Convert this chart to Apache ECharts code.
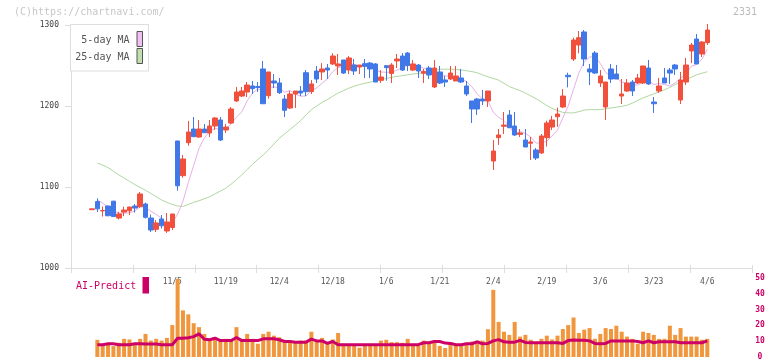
<!DOCTYPE html>
<html><head><meta charset="utf-8">
<script src="https://cdn.jsdelivr.net/npm/echarts@6/dist/echarts.min.js"></script>
<style>html,body{margin:0;padding:0;background:#fff}#c{width:772px;height:361px}</style>
</head><body><div id="c"></div>
<script>
const dates = ['10/14','10/15','10/16','10/17','10/20','10/21','10/22','10/23','10/24','10/27','10/28','10/29','10/30','10/31','11/4','11/5','11/6','11/7','11/10','11/11','11/12','11/13','11/14','11/17','11/18','11/19','11/20','11/21','11/25','11/26','11/27','11/28','12/1','12/2','12/3','12/4','12/5','12/8','12/9','12/10','12/11','12/12','12/15','12/16','12/17','12/18','12/19','12/22','12/23','12/24','12/25','12/26','12/29','12/30','1/5','1/6','1/7','1/8','1/9','1/13','1/14','1/15','1/16','1/19','1/20','1/21','1/22','1/23','1/26','1/27','1/28','1/29','1/30','2/2','2/3','2/4','2/5','2/6','2/9','2/10','2/12','2/13','2/16','2/17','2/18','2/19','2/20','2/24','2/25','2/26','2/27','3/2','3/3','3/4','3/5','3/6','3/9','3/10','3/11','3/12','3/13','3/16','3/17','3/18','3/19','3/23','3/24','3/25','3/26','3/27','3/30','3/31','4/1','4/2','4/3','4/6'];

const openP = [1072,1082,1070.5,1076.5,1082.5,1061.7,1069,1070.7,1076.5,1075.7,
1079,1061.7,1047.8,1060.5,1045.7,1050,1156.8,1114,1154.7,1171.6,
1161.7,1171.6,1166.7,1175.3,1182.7,1170.4,1179,1206.2,1212.3,1217.3,
1224.7,1224,1245.7,1212.7,1230.9,1228.4,1208.6,1197.5,1214.8,1218.5,
1241.1,1217.9,1243.2,1242,1246.9,1251.9,1249.4,1256.8,1244.4,1250.6,
1248.1,1252.2,1253,1251.9,1231.7,1249.8,1240.2,1255.6,1261.7,1265.4,
1244.4,1250.6,1240.4,1246.9,1223.5,1242,1232.1,1233.3,1230.9,1234.6,
1224.7,1206.2,1208.6,1208.6,1206.2,1132.1,1160.9,1175,1188.9,1175.3,
1165,1158,1154,1145.7,1142,1160.9,1174,1186.8,1198.8,1237.9,
1258,1275.3,1291.4,1245.7,1265.4,1228.4,1198.8,1245.7,1239.5,1212.3,
1218.5,1229.6,1228.4,1228.4,1246.9,1204.9,1218.5,1234.6,1244.4,1250.6,
1207.4,1229.6,1267.9,1282.7,1264.2,1278.2];

const closeP = [1073,1073,1071,1064.5,1063.5,1066.7,1071.6,1075.3,1074,1091.4,
1062.6,1046.9,1055.6,1052.1,1056.8,1066.7,1101.6,1134.6,1167.9,1162.1,
1171.6,1167,1175.3,1185.2,1158,1174,1196.3,1217.3,1218.5,1225.9,
1221.4,1222.8,1202.8,1242,1228.4,1216.4,1194.7,1214.8,1218.5,1216,
1217.7,1227.2,1233.3,1245.7,1244.4,1261.7,1251.9,1240.7,1259.3,1243.2,
1250.6,1249,1245.7,1229.6,1235.8,1247.3,1250.6,1258,1244.4,1250,
1251.9,1243.2,1242.8,1238.3,1246.9,1228.4,1229.6,1240.7,1237,1229.6,
1214.8,1196.3,1196.3,1206.2,1218.5,1144.4,1164.2,1176.5,1173.2,1164.2,
1166.7,1149.4,1155.6,1135.8,1163,1179,1182.7,1190.1,1212.3,1236.2,
1281.5,1284.3,1258,1242,1240.7,1237,1229.6,1233.3,1233.3,1214.8,
1228.4,1218.5,1234.6,1249.4,1227.2,1202.8,1224.7,1228.4,1240.7,1245.7,
1232.1,1250.6,1275.3,1251.9,1279,1293.8];

const lowP = [1071.5,1069,1063.5,1064,1063,1060,1064,1065.4,1068.5,1074,
1061,1044.4,1044.4,1048.8,1043.2,1046.9,1095.4,1111.5,1151,1162,
1160.5,1166.7,1161.7,1170.4,1156.8,1166.7,1177.8,1205,1211,1211,
1214.8,1217.3,1202.8,1209,1222.2,1214.8,1186.4,1196.3,1197.5,1212.3,
1212.3,1214.8,1228.4,1232,1233.3,1250.6,1238.3,1239.5,1239.5,1238.3,
1239.5,1234.6,1234.6,1229.6,1228.4,1231.2,1228.4,1246.9,1243.2,1243.2,
1243.2,1234.6,1228.4,1233.3,1222.2,1227.2,1223.5,1232.1,1230.9,1228.4,
1212.3,1179,1188.9,1201.2,1198.8,1121,1151.9,1165.4,1173.2,1163,
1161.7,1149.4,1133.3,1133.3,1140.7,1150,1170.4,1174.4,1197.5,1223,
1255.6,1265,1249.4,1225.9,1239.5,1223.5,1182.7,1228.4,1233.3,1202.5,
1217.3,1212.3,1227.2,1227.2,1225.9,1191.4,1216,1228.4,1227.2,1238.3,
1202.5,1225.9,1253,1251.9,1260.5,1275.3];

const highP = [1073.5,1086,1076,1077,1083,1069.5,1075.7,1075.5,1079,1093.8,
1080.6,1066,1059.3,1065.4,1067.9,1066.7,1157,1139.5,1181.5,1186.4,
1182.7,1177.8,1182.7,1186.4,1186.4,1178,1198.8,1223.5,1223.5,1229.6,
1230.9,1229.6,1255.6,1242,1239.5,1234.6,1213.6,1218.5,1218.5,1224.7,
1244.4,1232,1249.4,1253,1251.9,1265,1264.2,1256.8,1261.7,1258,
1250.6,1258,1254.3,1253,1244.4,1249.8,1253,1264.2,1265.4,1266.7,
1256.8,1251.9,1245.7,1249.4,1256.8,1249.4,1237,1249.4,1249.4,1245.7,
1230.9,1206.2,1209.9,1219.8,1218.5,1158,1171.6,1192.6,1195,1192.6,
1171.6,1171.6,1161.7,1148.1,1165.4,1181.8,1187.7,1198,1221,1241.1,
1284.3,1292.6,1293.8,1251.9,1267.9,1244.4,1229.6,1251.9,1250.6,1233.3,
1233.3,1232.1,1239.5,1249.4,1256.8,1211.1,1234.6,1246.9,1246.9,1251.9,
1242,1259.3,1277.8,1288.9,1280.2,1301.2];

const ma5 = [null,1084,1080,1075.5,1071,1067.7,1067.5,1068.3,1070.2,1075.8,
1075,1070,1066.1,1061.7,1054.8,1055.6,1066.6,1082.4,1105.5,1126.6,
1147.6,1160.6,1168.8,1172.2,1171.4,1171.9,1177.8,1186.2,1192.8,1206.4,
1215.9,1221.2,1218.3,1223,1223.5,1222.5,1216.9,1219.3,1214.6,1212.1,
1212.3,1218.8,1222.5,1228,1233.7,1242.5,1247.4,1248.9,1251.6,1251.4,
1249.1,1248.6,1249.6,1243.6,1242.1,1241.5,1241.8,1244.3,1247.2,1250.1,
1251,1249.5,1246.5,1245.2,1244.6,1239.9,1237.2,1236.8,1236.5,1233.1,
1230.3,1223.7,1214.8,1208.6,1206.4,1192.3,1185.9,1182,1175.4,1164.5,
1169,1166,1161.8,1154.3,1154.1,1156.6,1163.2,1170.1,1185.4,1200.1,
1220.6,1240.9,1254.5,1260.4,1261.3,1252.4,1241.5,1236.5,1234.8,1229.6,
1227.9,1225.7,1225.9,1229.1,1231.6,1226.5,1227.7,1226.5,1224.8,1228.5,
1234.3,1239.5,1248.9,1251.1,1257.8,1270.1];

const ma25 = [null,1129.6,1127,1124,1119.5,1115,1111,1107,1103,1099.5,
1096,1092,1088,1084,1081,1078.5,1076.5,1076,1078.5,1081,
1083,1085.5,1088,1091.5,1095,1098.5,1103.5,1109,1115,1121.5,
1128,1134,1139.5,1146,1153,1160,1165.5,1171,1176.5,1182,
1189,1195.5,1200,1204.5,1208,1212,1216,1219,1222,1224.5,
1226.5,1228,1229.5,1231,1232.5,1234,1235.5,1236.5,1237.5,1238.5,
1239.5,1240.5,1241,1242.5,1244,1245.3,1245.5,1245.5,1245,1244.5,
1243.5,1242.5,1241,1238.5,1236,1234,1232,1228,1224,1221.5,
1219,1216,1212.5,1209,1205,1200.5,1197,1194.5,1192,1191.5,
1191.5,1193,1195,1195.5,1195.5,1195.5,1196.5,1197.5,1198.5,1199.5,
1201,1203.5,1207,1210,1212.5,1215,1217.5,1220,1223,1226.5,
1229.5,1232.5,1235.5,1238.5,1240.5,1242.3];

const volume = [null,10.9,7.8,7.8,6.9,9.0,11.5,11.1,7.8,11.5,
14.6,10.4,11.5,10.4,12.1,20.2,49.4,29.5,27,21.4,
18.9,14.6,11.5,11.5,10.4,11.5,10.4,18.9,11.5,14.6,
11.5,8.4,14.6,16,13.5,12.5,10.4,10.4,9.4,10.4,
10.4,16,10.4,12.1,8.4,11.1,15.2,8.4,7.8,7.8,
5.9,7.8,7.8,7.8,10.4,10.9,9.4,9.4,9.0,11.5,
7,7,10.4,9.4,10.4,7,5.7,9.4,7,7.8,
9,9.8,10.4,10.4,17.6,42.5,22.2,16,14,22.2,
12.9,14,10.9,9,11.5,13.5,11.1,13.5,17.7,20.2,
25,15.2,17.3,18.3,11.5,14.6,18.3,17.7,19.8,16,
12.9,11.5,8.4,16,15.2,14,11.5,11.5,19.8,14,
18.3,12.9,12.9,12.9,10.9,11.5];

const aiPredict = [null,7.8,7.8,8.4,8.4,7.8,7.8,7.8,8.4,8.4,
8.2,8.2,8.2,7.8,7.8,7.8,11.9,11.9,12.2,12.9,
14.6,11.2,10.9,11.9,10.4,10.4,10.4,12.3,10.4,10.4,
10.4,10.4,11.5,11.5,11.5,10.9,9.8,9.8,9.4,9.4,
9.4,11.3,10.2,10.2,8.6,9.8,7.8,7.8,7.8,7.8,
7.8,7.8,7.8,7.8,7.8,7.8,7.8,7.8,7.8,7.8,
7.8,7.8,9.0,9.0,9.8,9.8,8.8,8.6,7.8,7.8,
8.4,8.4,9.6,8.4,8.6,10.2,11.0,9.6,9.4,9.4,
10.5,9.2,9.0,9.0,9.0,9.0,9.0,9.0,8.6,10.4,
10.8,10.6,10.6,10.2,8.6,8.4,8.6,10.2,10.2,10.2,
10.2,10.2,9.8,9.0,10.2,9.0,9.6,9.6,9.6,9.6,
9.0,9.0,9.0,9.0,9.0,10.2];

const priceMin = 1000, priceMax = 1300, priceStep = 100;
const volMin = 0, volMax = 50, volStep = 10;
const labelEvery = 10, labelFirst = 15;

const MONO = '"DejaVu Sans Mono", monospace';
const candleData = openP.map((o, i) => [o, closeP[i], lowP[i], highP[i]]);

const chart = echarts.init(document.getElementById('c'), null, {renderer: 'canvas'});
const gLeft = 89.33, gWidth = 620.65;
chart.setOption({
  animation: false,
  backgroundColor: '#fff',
  grid: [
    {left: 71, right: 20, top: 25, bottom: 93},
    {left: gLeft, width: gWidth, top: 25, bottom: 93},
    {left: gLeft, width: gWidth, top: 278, bottom: 2.5}
  ],
  xAxis: [
    {gridIndex: 0, type: 'value', min: 0, max: 11, interval: 1, position: 'bottom',
     axisLine: {show: true, lineStyle: {color: '#dddddd', width: 1}},
     axisTick: {show: true, length: 5, lineStyle: {color: '#dddddd'}},
     axisLabel: {show: false}, splitLine: {show: false}},
    {gridIndex: 0, type: 'value', min: 0, max: 11, interval: 1, position: 'bottom',
     axisLine: {show: false},
     axisTick: {show: true, inside: true, length: 3, lineStyle: {color: '#dddddd'}},
     axisLabel: {show: false}, splitLine: {show: false}},
    {gridIndex: 1, type: 'category', data: dates, boundaryGap: true,
     axisLine: {show: false}, axisTick: {show: false}, splitLine: {show: false},
     axisLabel: {interval: (idx) => idx >= labelFirst && (idx - labelFirst) % labelEvery === 0,
       color: '#555', fontSize: 8, fontFamily: MONO, margin: 10}},
    {gridIndex: 2, type: 'category', data: dates, boundaryGap: true, show: false}
  ],
  yAxis: [
    {gridIndex: 0, type: 'value', min: priceMin, max: priceMax, interval: priceStep,
     axisLine: {show: true, lineStyle: {color: '#dddddd'}},
     axisTick: {show: true, length: 6, lineStyle: {color: '#dddddd'}},
     axisLabel: {color: '#444', fontSize: 8, fontFamily: MONO, margin: 12, formatter: (v) => String(v)},
     splitLine: {show: false}},
    {gridIndex: 1, type: 'value', min: priceMin, max: priceMax, show: false, splitLine: {show: false}},
    {gridIndex: 2, type: 'value', min: volMin, max: volMax, interval: volStep, position: 'right',
     offset: 752 - (gLeft + gWidth),
     axisLine: {show: false}, axisTick: {show: false}, splitLine: {show: false},
     axisLabel: {color: '#cc0066', fontSize: 8, fontFamily: MONO, fontWeight: 'bold', margin: 8, align: 'center', formatter: (v) => String(v)}}
  ],
  series: [
    {type: 'line', name: '25-day MA', xAxisIndex: 2, yAxisIndex: 1, data: ma25, symbol: 'none',
     lineStyle: {color: '#b0d8a0', width: 1}, z: 1},
    {type: 'line', name: '5-day MA', xAxisIndex: 2, yAxisIndex: 1, data: ma5, symbol: 'none',
     lineStyle: {color: '#e8b0e8', width: 1}, z: 1},
    {type: 'candlestick', xAxisIndex: 2, yAxisIndex: 1, data: candleData, barWidth: 5,
     itemStyle: {color: '#f0503c', color0: '#4078e8', borderColor: '#f0503c', borderColor0: '#4078e8', borderWidth: 1}, z: 3},
    {type: 'bar', xAxisIndex: 3, yAxisIndex: 2, data: volume, barWidth: 4,
     itemStyle: {color: '#f0963c'}, z: 2},
    {type: 'line', xAxisIndex: 3, yAxisIndex: 2, data: aiPredict, symbol: 'none',
     lineStyle: {color: '#cc0066', width: 3}, z: 4}
  ],
  graphic: [
    {type: 'text', left: 14, top: 7, style: {text: '(C)https://chartnavi.com/', font: '10px ' + MONO, fill: '#c8c8c8'}},
    {type: 'text', right: 15, top: 7, style: {text: '2331', font: '10px ' + MONO, fill: '#bbbbbb'}},
    {type: 'rect', shape: {x: 70.5, y: 24.5, width: 78, height: 46.5}, style: {fill: '#fff', stroke: '#dddddd', lineWidth: 1}, z: 10},
    {type: 'text', x: 129.5, y: 40.5, style: {text: '5-day MA', font: '10px ' + MONO, fill: '#555', align: 'right', verticalAlign: 'middle'}, z: 11},
    {type: 'text', x: 129.5, y: 57, style: {text: '25-day MA', font: '10px ' + MONO, fill: '#555', align: 'right', verticalAlign: 'middle'}, z: 11},
    {type: 'rect', shape: {x: 137, y: 31.5, width: 5.5, height: 15}, style: {fill: '#f0c0f0', stroke: '#555', lineWidth: 1}, z: 11},
    {type: 'rect', shape: {x: 137, y: 48.5, width: 5.5, height: 15}, style: {fill: '#c0e0b0', stroke: '#555', lineWidth: 1}, z: 11},
    {type: 'text', x: 76, y: 286, style: {text: 'AI-Predict', font: '10px ' + MONO, fill: '#cc0066', align: 'left', verticalAlign: 'middle'}, z: 11},
    {type: 'rect', shape: {x: 142.5, y: 277, width: 6.5, height: 16.5}, style: {fill: '#cc0066'}, z: 11}
  ]
});
</script></body></html>
